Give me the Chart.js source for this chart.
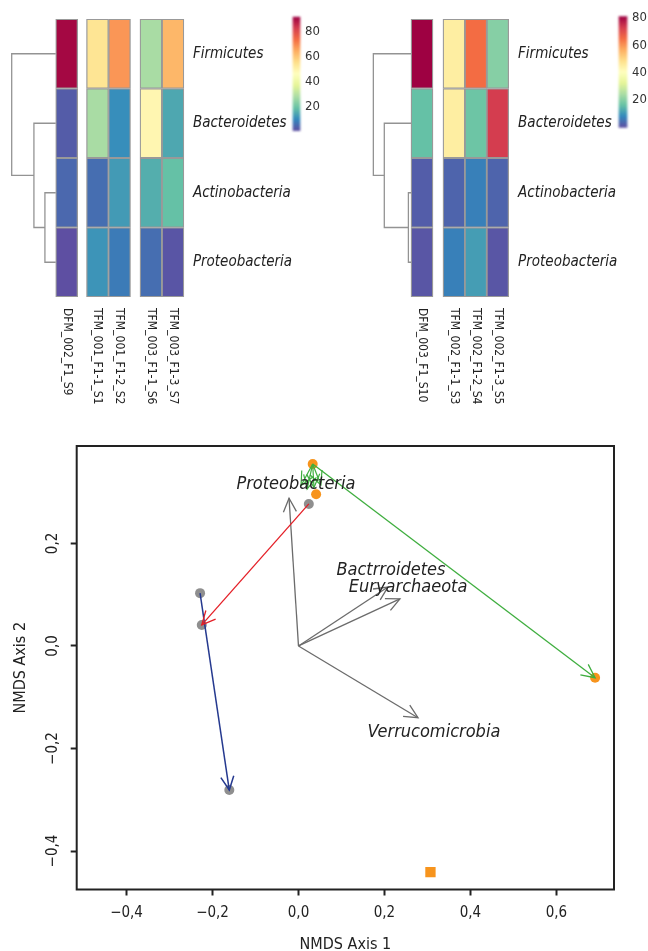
<!DOCTYPE html>
<html>
<head>
<meta charset="utf-8">
<script src="https://cdn.jsdelivr.net/npm/chart.js@4.4.1/dist/chart.umd.min.js"></script>
<style>
  html, body { margin: 0; padding: 0; background: #fff; }
  body { position: relative; width: 648px; height: 951px; overflow: hidden; }
  canvas { position: absolute; }
  #heatA { left: 0; top: 0; }
  #barA { left: 280px; top: 0; }
  #heatB { left: 330px; top: 0; }
  #barB { left: 610px; top: 0; }
  #nmds { left: 0; top: 420px; }
</style>
</head>
<body>
<canvas id="heatA" width="300" height="420"></canvas>
<canvas id="barA" width="50" height="150"></canvas>
<canvas id="heatB" width="300" height="420"></canvas>
<canvas id="barB" width="38" height="150"></canvas>
<canvas id="nmds" width="648" height="545"></canvas>
<script>
// ---- heatmap data (relative abundance, %) ----
const phyla = ['Firmicutes', 'Bacteroidetes', 'Actinobacteria', 'Proteobacteria'];

const samplesA = ['DFM_002_F1_S9', 'TFM_001_F1-1_S1', 'TFM_001_F1-2_S2', 'TFM_003_F1-1_S6', 'TFM_003_F1-3_S7'];
const abundA = [
  [91, 3, 5, 1],
  [54, 28, 6, 12],
  [68, 11, 13, 8],
  [28, 49, 16, 6],
  [63, 15, 19, 2]
];
const colPosA = [0.5, 1.9, 2.9, 4.33, 5.33];   // column centres, in cell widths
const dendroA = [2.0, 0.99, 0.49];             // merge heights: root, Bac+(Act+Pro), Act+Pro
const scaleA = [1, 92];

const samplesB = ['DFM_003_F1_S10', 'TFM_002_F1-1_S3', 'TFM_002_F1-2_S4', 'TFM_002_F1-3_S5'];
const abundB = [
  [81, 16, 2, 1],
  [45, 45, 3, 7],
  [65, 17, 7, 11],
  [20, 73, 3, 1]
];
const colPosB = [0.5, 1.96, 2.96, 3.96];
const dendroB = [1.72, 1.22, 0.12];
const scaleB = [0, 81];

const legendTicks = [20, 40, 60, 80];

// ---- NMDS data ----
const nmdsOrange = [[0.033, 0.355], [0.041, 0.296], [0.69, -0.062]];
const nmdsGray = [[-0.229, 0.103], [-0.225, 0.041], [0.024, 0.277], [-0.161, -0.281]];
const nmdsSquare = [[0.307, -0.441]];
const shiftRed = [[0.024, 0.277], [-0.225, 0.041]];
const shiftBlue = [[-0.229, 0.103], [-0.161, -0.281]];
const shiftGreen = [[0.033, 0.355], [0.69, -0.062]];
const shiftGreenShort = [[0.006, 0.313], [0.02, 0.306], [0.036, 0.309], [0.052, 0.314]]; // ends, all start at top orange point
const envNames = ['Proteobacteria', 'Bactrroidetes', 'Euryarchaeota', 'Verrucomicrobia'];
const envTips = [[-0.022, 0.288], [0.208, 0.115], [0.236, 0.092], [0.278, -0.14]];
const envLabelPos = [[-0.006, 0.316], [0.215, 0.148], [0.255, 0.115], [0.315, -0.168]];
const xTicks = [-0.4, -0.2, 0, 0.2, 0.4, 0.6];
const yTicks = [-0.4, -0.2, 0, 0.2];

const FONT = "'DejaVu Sans Condensed', 'DejaVu Sans', sans-serif";
const spectral = ['#5e4fa2', '#3288bd', '#66c2a5', '#abdda4', '#e6f598', '#ffffbf',
                  '#fee08b', '#fdae61', '#f46d43', '#d53e4f', '#9e0142'];

function hexRgb(h) {
  return [1, 3, 5].map(i => parseInt(h.slice(i, i + 2), 16));
}
function spectralColor(t) {
  t = Math.min(1, Math.max(0, t)) * (spectral.length - 1);
  const i = Math.min(Math.floor(t), spectral.length - 2);
  const f = t - i;
  const a = hexRgb(spectral[i]), b = hexRgb(spectral[i + 1]);
  const c = a.map((v, k) => Math.round(v + (b[k] - v) * f));
  return `rgb(${c[0]},${c[1]},${c[2]})`;
}

// U-shaped dendrogram links, broken with null gaps
function dendroPath(heights) {
  const [hRoot, hMid, hLow] = heights.map(h => -h);
  const u = (xa, ya, x, yb, xb) => [{x: xa, y: ya}, {x: x, y: ya}, {x: x, y: yb}, {x: xb, y: yb}, {x: xb, y: null}];
  return [
    ...u(0, 2.5, hLow, 3.5, 0),
    ...u(0, 1.5, hMid, 3.0, hLow),
    ...u(0, 0.5, hRoot, 2.25, hMid)
  ];
}

const colLabels = {
  id: 'colLabels',
  afterDraw(chart, args, opts) {
    const {ctx, chartArea} = chart;
    const x = chart.scales.x;
    ctx.save();
    ctx.font = '12px ' + FONT;
    ctx.fillStyle = '#222';
    ctx.textAlign = 'left';
    ctx.textBaseline = 'middle';
    opts.labels.forEach((lab, i) => {
      ctx.save();
      ctx.translate(x.getPixelForValue(opts.positions[i]), chartArea.bottom + 11);
      ctx.rotate(Math.PI / 2);
      ctx.fillText(lab, 0, 0);
      ctx.restore();
    });
    ctx.restore();
  }
};

function makeHeatmap(id, samples, abund, colPos, dendro, range, xr, pad, labelW) {
  const [lo, hi] = range;
  const cells = phyla.map((name, r) => ({
    type: 'bar',
    label: name,
    data: colPos.map(x => ({x: x, y: [r, r + 1]})),
    backgroundColor: abund.map(col => spectralColor((col[r] - lo) / (hi - lo))),
    borderColor: '#999999',
    borderWidth: 1.3,
    borderSkipped: false,
    barThickness: 22,
    grouped: false
  }));
  new Chart(document.getElementById(id), {
    type: 'bar',
    data: {
      datasets: [{
        type: 'line',
        data: dendroPath(dendro),
        borderColor: '#939393',
        borderWidth: 1.3,
        pointRadius: 0,
        spanGaps: false,
        tension: 0
      }, ...cells]
    },
    options: {
      responsive: false,
      animation: false,
      events: [],
      layout: {padding: pad},
      plugins: {
        legend: {display: false},
        tooltip: {enabled: false},
        colLabels: {labels: samples, positions: colPos}
      },
      scales: {
        x: {type: 'linear', display: false, offset: false, min: xr[0], max: xr[1]},
        y: {
          type: 'linear', position: 'right', reverse: true, min: 0, max: 4,
          afterBuildTicks: ax => { ax.ticks = phyla.map((_, i) => ({value: i + 0.5})); },
          afterFit: ax => { ax.width = labelW; },
          grid: {display: false, drawTicks: false},
          border: {display: false},
          ticks: {
            callback: (v, i) => phyla[i],
            color: '#222',
            padding: 8.5,
            autoSkip: false,
            font: {family: FONT, size: 15, style: 'italic'}
          }
        }
      }
    },
    plugins: [colLabels]
  });
}

const softBar = {
  id: 'softBar',
  beforeDatasetDraw(chart) { chart.ctx.save(); chart.ctx.filter = 'blur(1.2px)'; },
  afterDatasetDraw(chart) { chart.ctx.restore(); }
};

function makeColorbar(id, range, pad, axisW) {
  new Chart(document.getElementById(id), {
    type: 'bar',
    data: {
      labels: [''],
      datasets: [{
        data: [range],
        backgroundColor: c => {
          const y = c.chart.scales.y;
          if (!c.chart.chartArea || !y) return '#999';
          const y0 = y.getPixelForValue(range[0]), y1 = y.getPixelForValue(range[1]);
          if (!Number.isFinite(y0) || !Number.isFinite(y1)) return '#999';
          const g = c.chart.ctx.createLinearGradient(0, y0, 0, y1);
          spectral.forEach((col, i) => g.addColorStop(i / (spectral.length - 1), col));
          return g;
        },
        borderWidth: 0,
        barPercentage: 1,
        categoryPercentage: 1,
        clip: false
      }]
    },
    options: {
      responsive: false,
      animation: false,
      events: [],
      layout: {padding: pad},
      plugins: {legend: {display: false}, tooltip: {enabled: false}},
      scales: {
        x: {display: false},
        y: {
          position: 'right', min: range[0], max: range[1],
          afterBuildTicks: ax => { ax.ticks = legendTicks.map(v => ({value: v})); },
          afterFit: ax => { ax.width = axisW; },
          grid: {display: false, drawTicks: false},
          border: {display: false},
          ticks: {color: '#333', padding: 5, font: {family: FONT, size: 13}}
        }
      }
    },
    plugins: [softBar]
  });
}

makeHeatmap('heatA', samplesA, abundA, colPosA, dendroA, scaleA, [-2.1, 5.85],
  {left: 9.5, top: 19, right: 0, bottom: 123}, 115.6);
makeHeatmap('heatB', samplesB, abundB, colPosB, dendroB, scaleB, [-1.85, 4.5],
  {left: 40.5, top: 19, right: 0, bottom: 123}, 120.4);
makeColorbar('barA', scaleA, {left: 13, top: 17, right: 0, bottom: 19.25}, 30);
makeColorbar('barB', scaleB, {left: 9, top: 16.6, right: 0, bottom: 22.7}, 21);

// ---- NMDS biplot ----
const toXY = arr => arr.map(p => ({x: p[0], y: p[1]}));
const fmt = v => Math.abs(v) < 1e-9 ? '0,0' : (v < 0 ? '\u2212' : '') + Math.abs(v).toFixed(1).replace('.', ',');

const arrowHeads = {
  id: 'arrowHeads',
  afterDatasetDraw(chart, args) {
    const ds = chart.data.datasets[args.index];
    if (!ds.arrow) return;
    const pts = args.meta.data;
    const a = pts[0], b = pts[1];
    const ang = Math.atan2(b.y - a.y, b.x - a.x);
    const len = 15, spread = Math.PI / 7;
    const ctx = chart.ctx;
    ctx.save();
    ctx.strokeStyle = ds.borderColor;
    ctx.lineWidth = ds.borderWidth;
    ctx.beginPath();
    ctx.moveTo(b.x - len * Math.cos(ang - spread), b.y - len * Math.sin(ang - spread));
    ctx.lineTo(b.x, b.y);
    ctx.lineTo(b.x - len * Math.cos(ang + spread), b.y - len * Math.sin(ang + spread));
    ctx.stroke();
    ctx.restore();
  }
};

const envLabels = {
  id: 'envLabels',
  afterDatasetsDraw(chart) {
    const {ctx} = chart;
    const {x, y} = chart.scales;
    ctx.save();
    ctx.font = 'italic 18px ' + FONT;
    ctx.fillStyle = '#222';
    ctx.textAlign = 'center';
    ctx.textBaseline = 'middle';
    envNames.forEach((n, i) => ctx.fillText(n, x.getPixelForValue(envLabelPos[i][0]), y.getPixelForValue(envLabelPos[i][1])));
    ctx.restore();
  }
};

const frame = {
  id: 'frame',
  afterDatasetsDraw(chart) {
    const {ctx, chartArea: a} = chart;
    ctx.save();
    ctx.strokeStyle = '#222';
    ctx.lineWidth = 2;
    ctx.strokeRect(a.left, a.top, a.right - a.left, a.bottom - a.top);
    ctx.restore();
  }
};

const arrowSet = (pair, color, width) => ({
  data: toXY(pair), showLine: true, arrow: true,
  borderColor: color, borderWidth: width, pointRadius: 0, fill: false
});

new Chart(document.getElementById('nmds'), {
  type: 'scatter',
  data: {
    datasets: [
      arrowSet(shiftRed, '#e41e26', 1.3),
      arrowSet(shiftBlue, '#25398f', 1.5),
      arrowSet(shiftGreen, '#3fae3f', 1.3),
      ...shiftGreenShort.map(p => arrowSet([shiftGreen[0], p], '#3fae3f', 1.2)),
      ...envTips.map(p => arrowSet([[0, 0], p], '#6b6b6b', 1.3)),
      {data: toXY(nmdsOrange), backgroundColor: '#f7941d', pointRadius: 5, pointBorderWidth: 0},
      {data: toXY(nmdsGray), backgroundColor: '#8f8f8f', pointRadius: 5, pointBorderWidth: 0},
      {data: toXY(nmdsSquare), backgroundColor: '#f7941d', pointStyle: 'rect', pointRadius: 7.3, pointBorderWidth: 0}
    ]
  },
  options: {
    responsive: false,
    animation: false,
    events: [],
    layout: {padding: {left: 0, top: 26, right: 34, bottom: 0}},
    plugins: {legend: {display: false}, tooltip: {enabled: false}},
    scales: {
      x: {
        type: 'linear', min: -0.516, max: 0.734,
        afterBuildTicks: ax => { ax.ticks = xTicks.map(v => ({value: v})); },
        afterFit: ax => { ax.height = 75.5; },
        grid: {drawOnChartArea: false, drawTicks: true, tickLength: 6, tickWidth: 2, color: '#222'},
        border: {display: false},
        ticks: {callback: fmt, color: '#222', padding: 9, maxRotation: 0, font: {family: FONT, size: 15}},
        title: {display: true, text: 'NMDS Axis 1', color: '#222', font: {family: FONT, size: 16}, padding: {top: 0, bottom: 11}}
      },
      y: {
        type: 'linear', min: -0.475, max: 0.39,
        afterBuildTicks: ax => { ax.ticks = yTicks.map(v => ({value: v})); },
        afterFit: ax => { ax.width = 76.7; },
        grid: {drawOnChartArea: false, drawTicks: true, tickLength: 6, tickWidth: 2, color: '#222'},
        border: {display: false},
        ticks: {callback: fmt, color: '#222', padding: 1, minRotation: 90, maxRotation: 90, crossAlign: 'center', font: {family: FONT, size: 15}},
        title: {display: true, text: 'NMDS Axis 2', color: '#222', font: {family: FONT, size: 16}, padding: {top: 11, bottom: 0}}
      }
    }
  },
  plugins: [arrowHeads, envLabels, frame]
});
</script>
</body>
</html>
